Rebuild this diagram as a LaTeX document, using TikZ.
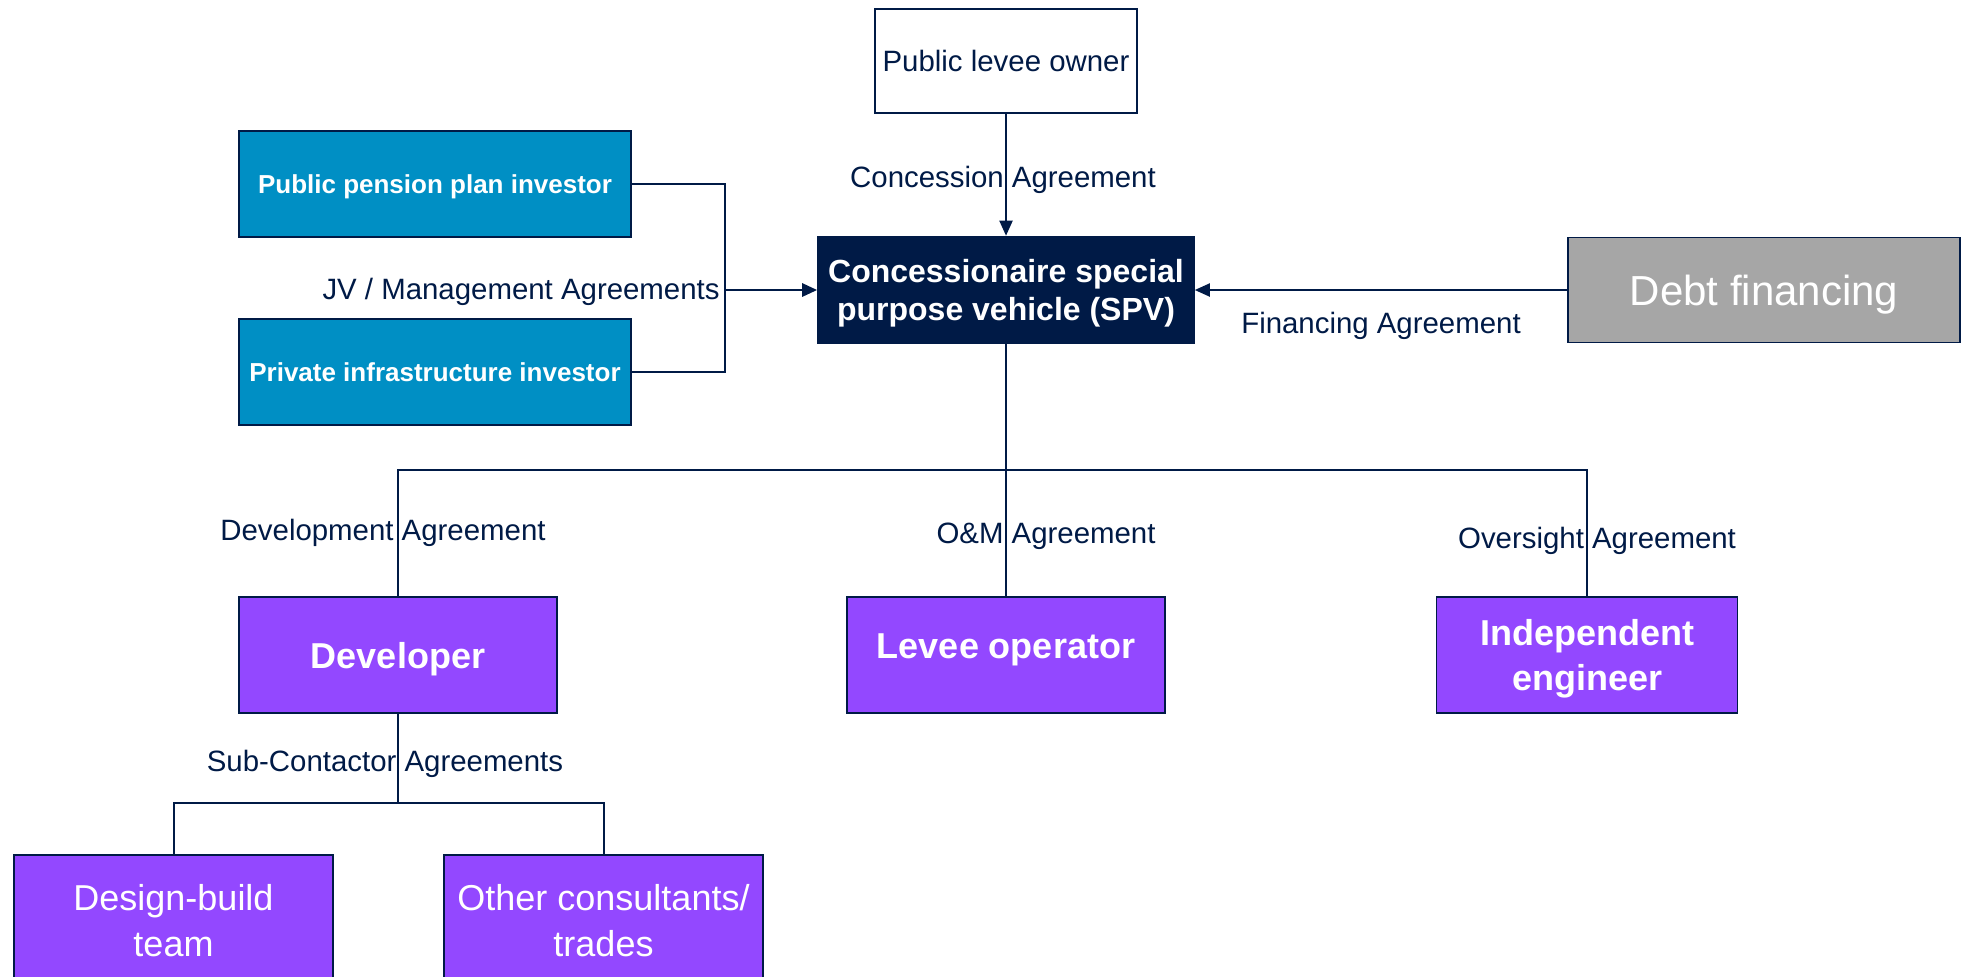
\documentclass[tikz,border=0pt]{standalone}
\usepackage{fontspec}
\setmainfont{Liberation Sans}
\usetikzlibrary{arrows.meta}
\definecolor{colnavy}{RGB}{0,26,70}
\definecolor{colteal}{RGB}{0,143,196}
\definecolor{colpurple}{RGB}{147,72,255}
\definecolor{colgrey}{RGB}{166,166,166}
\tikzset{
  entity/.style={
    rectangle, draw=colnavy, line width=0.8pt, inner sep=0pt,
    align=center, text=white, text depth=0pt
  },
  investor/.style={entity, fill=colteal, minimum width=196pt,
    minimum height=53pt, font=\fontsize{13}{16}\selectfont\bfseries},
  party/.style={entity, fill=colpurple, minimum height=58pt,
    font=\fontsize{18}{22.5}\selectfont\bfseries},
  trade/.style={entity, fill=colpurple, minimum width=159.5pt,
    minimum height=65pt, font=\fontsize{18}{23}\selectfont},
  agreement/.style={text=colnavy, inner sep=0pt, text depth=0pt,
    font=\fontsize{14.7}{17.6}\selectfont},
  link/.style={draw=colnavy, line width=1pt},
  flow/.style={link, -{Triangle[length=7.5pt,width=6.5pt]}}
}

\begin{document}
\begin{tikzpicture}[x=0.5pt, y=-0.5pt]
  \useasboundingbox (0,0) rectangle (1962,976);
  \clip (0,0) rectangle (1962,976);

  % The parties
  \node[entity, fill=white, text=colnavy, minimum width=131pt,
    minimum height=52pt, font=\fontsize{14.7}{17.6}\selectfont]
    (owner) at (1006,61) {Public levee owner};
  \node[investor] (pension) at (435,184) {Public pension plan investor};
  \node[investor] (private) at (435,372) {Private infrastructure investor};
  \node[entity, fill=colnavy, minimum width=188pt, minimum height=53.5pt,
    font=\fontsize{16}{19}\selectfont\bfseries]
    (spv) at (1006,290) {Concessionaire special\\purpose vehicle (SPV)};
  \node[entity, fill=colgrey, minimum width=196pt, minimum height=52.5pt,
    font=\fontsize{21}{25}\selectfont] (debt) at (1764,290) {Debt financing};
  \node[party, minimum width=159pt] (developer) at (398,655) {Developer};
  \node[party, minimum width=159pt] (operator) at (1006,655)
    {\raisebox{9pt}{Levee operator}};
  \node[party, minimum width=150.5pt] (engineer) at (1587,655)
    {Independent\\engineer};
  \node[trade] (designbuild) at (173.5,920) {Design-build\\team};
  \node[trade] (others) at (603.5,920) {Other consultants/\\trades};

  % Junctions
  \coordinate (jv) at (725,290);
  \coordinate (bus) at (1006,470);
  \coordinate (sub) at (398,803);

  % The agreements
  \draw[flow] (owner) -- (spv);
  \draw[link, line width=1.4pt] (pension.east) -| (jv);
  \draw[link, line width=1.4pt] (private.east) -| (jv);
  \draw[flow, line width=1.4pt] (jv) -- (spv);
  \draw[flow] (debt) -- (spv);
  \draw[link] (spv) -- (operator);
  \draw[link] (developer.north) |- (bus) -| (engineer.north);
  \draw[link] (developer) -- (sub);
  \draw[link] (designbuild.north) |- (sub) -| (others.north);

  % The labels
  \node[agreement] (concession) at (1003,177) {Concession Agreement};
  \node[agreement, anchor=east] (jvlabel) at (720,289)
    {JV / Management Agreements};
  \node[agreement] (financing) at (1381,323) {Financing Agreement};
  \node[agreement] (development) at (383,530) {Development Agreement};
  \node[agreement] (om) at (1046,533) {O\&M Agreement};
  \node[agreement] (oversight) at (1597,538) {Oversight Agreement};
  \node[agreement] (subcontract) at (385,761) {Sub-Contactor Agreements};
\end{tikzpicture}
\end{document}
